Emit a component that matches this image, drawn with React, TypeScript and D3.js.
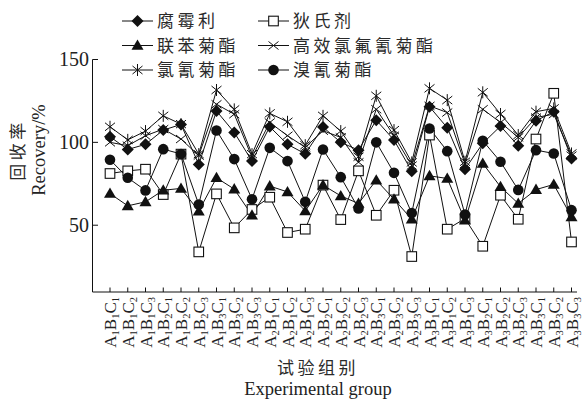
import React from "react";
import * as d3 from "d3";

const categories = [
  "A1B1C1","A1B1C2","A1B1C3","A1B2C1","A1B2C2","A1B2C3","A1B3C1","A1B3C2","A1B3C3",
  "A2B1C1","A2B1C2","A2B1C3","A2B2C1","A2B2C2","A2B2C3","A2B3C1","A2B3C2","A2B3C3",
  "A3B1C1","A3B1C2","A3B1C3","A3B2C1","A3B2C2","A3B2C3","A3B3C1","A3B3C2","A3B3C3",
];

const procymidone = [103.4, 95.7, 98.8, 107.4, 110.8, 86.7, 118.9, 106, 88.7, 109.4, 98.8, 93.1, 109.2, 100, 95.3, 113.4, 101.4, 82.6, 121.5, 108.8, 83.8, 99.4, 109.8, 97.9, 113, 118.5, 90.3];
const dieldrin = [81.2, 82.8, 83.8, 68.5, 92.9, 33.9, 68.9, 48.4, 59.5, 66.9, 45.6, 47.6, 74.2, 53.4, 82.8, 56, 71.1, 31.1, 104.4, 47.6, 54, 37.3, 68.1, 53.6, 102, 129.6, 39.9];
const bifenthrin = [69.1, 61.7, 64.1, 71.1, 72.2, 58.5, 78.6, 71.8, 56, 73.6, 70.1, 58.6, 74.2, 67.7, 63.1, 77.2, 65.7, 53.6, 79.8, 78.2, 53, 87.3, 73.2, 63.1, 71.5, 74.6, 55];
const lambdaCyhalothrin = [100, 98, 104, 108, 102, 92, 123, 117, 91, 112, 104, 97, 107, 103, 88, 120, 104, 86, 122, 118, 87, 120, 112, 103, 115, 117, 92];
const cypermethrin = [109.4, 101.5, 106.8, 116, 111, 92.9, 131.6, 119.9, 92.9, 117.5, 112.4, 98.3, 116, 106.8, 91.3, 128.1, 107.4, 87.9, 132.6, 125.5, 88.3, 130.2, 117.1, 104.4, 118.5, 120.5, 93.3];
const deltamethrin = [89.5, 78.6, 71, 95.9, 93, 62.5, 107.2, 89.9, 65.7, 96.7, 88.7, 64.1, 95.7, 79, 60.1, 100, 81.6, 57.3, 108.4, 94.7, 56.5, 101, 88.3, 71.3, 95.3, 93.3, 59.1];

const seriesNames = ["腐霉利", "狄氏剂", "联苯菊酯", "高效氯氟氰菊酯", "氯氰菊酯", "溴氰菊酯"];
const yTicks = [50, 100, 150];

type Shape = "diamond" | "square" | "triangle" | "x" | "star" | "circle";

const series: { name: string; values: number[]; shape: Shape }[] = [
  { name: seriesNames[1], values: dieldrin, shape: "square" },
  { name: seriesNames[2], values: bifenthrin, shape: "triangle" },
  { name: seriesNames[5], values: deltamethrin, shape: "circle" },
  { name: seriesNames[3], values: lambdaCyhalothrin, shape: "x" },
  { name: seriesNames[4], values: cypermethrin, shape: "star" },
  { name: seriesNames[0], values: procymidone, shape: "diamond" },
];

const legendItems: { name: string; shape: Shape }[] = [
  { name: seriesNames[0], shape: "diamond" },
  { name: seriesNames[1], shape: "square" },
  { name: seriesNames[2], shape: "triangle" },
  { name: seriesNames[3], shape: "x" },
  { name: seriesNames[4], shape: "star" },
  { name: seriesNames[5], shape: "circle" },
];

function Marker({ shape, x, y }: { shape: Shape; x: number; y: number }) {
  const k = "#111";
  switch (shape) {
    case "diamond":
      return <path d={`M${x},${y - 6}L${x + 6},${y}L${x},${y + 6}L${x - 6},${y}Z`} fill={k} />;
    case "square":
      return <rect x={x - 4.8} y={y - 4.8} width={9.6} height={9.6} fill="#fff" stroke={k} strokeWidth={1.1} />;
    case "triangle":
      return <path d={`M${x},${y - 6}L${x + 6},${y + 4.3}L${x - 6},${y + 4.3}Z`} fill={k} />;
    case "circle":
      return <circle cx={x} cy={y} r={5.3} fill={k} />;
    case "x":
      return <path d={`M${x - 5},${y - 4}L${x + 5},${y + 4}M${x - 5},${y + 4}L${x + 5},${y - 4}`} stroke={k} strokeWidth={1} />;
    case "star":
      return <path d={`M${x - 5},${y - 4}L${x + 5},${y + 4}M${x - 5},${y + 4}L${x + 5},${y - 4}M${x},${y - 6}L${x},${y + 6}`} stroke={k} strokeWidth={1} />;
  }
}

export default function App() {
  const W = 583, H = 399;
  const x = d3.scalePoint<string>().domain(categories).range([110, 571.5]);
  const y = d3.scaleLinear().domain([10, 150]).range([291.5, 59.5]);
  const line = d3.line<number>().x((_, i) => x(categories[i]) as number).y((d) => y(d));
  const serif = "'Liberation Serif', 'Times New Roman', serif";
  const cjk = "'Noto Sans CJK SC', sans-serif";

  return (
    <svg width={W} height={H} style={{ position: "absolute", left: 0, top: 0, background: "#fff" }}>
      <rect width={W} height={H} fill="#fff" />
      {/* legend */}
      {legendItems.map((it, i) => {
        const col = i % 2, row = Math.floor(i / 2);
        const lx = col === 0 ? 122 : 258;
        const ly = 21 + row * 24.5;
        return (
          <g key={it.name}>
            <line x1={lx} x2={lx + 31} y1={ly} y2={ly} stroke="#111" strokeWidth={1} />
            <Marker shape={it.shape} x={lx + 15.5} y={ly} />
            <text x={lx + 35} y={ly + 6} fontFamily={cjk} fontSize={17} letterSpacing={3.5} fill="#2a2a2a">{it.name}</text>
          </g>
        );
      })}
      {/* axes */}
      <line x1={92.5} x2={92.5} y1={59.5} y2={292} stroke="#111" strokeWidth={1} />
      <line x1={92.5} x2={577} y1={292} y2={292} stroke="#111" strokeWidth={1} />
      {yTicks.map((t) => (
        <g key={t}>
          <line x1={92.5} x2={98} y1={y(t)} y2={y(t)} stroke="#111" strokeWidth={1} />
          <text x={89} y={y(t) + 6.5} textAnchor="end" fontFamily={serif} fontSize={20} fill="#222">{t}</text>
        </g>
      ))}
      {categories.map((c) => {
        const px = x(c) as number;
        const parts = c.match(/[A-Z]\d/g) || [];
        return (
          <g key={c}>
            <line x1={px} x2={px} y1={292} y2={287.5} stroke="#111" strokeWidth={1} />
            <text transform={`translate(${px + 6},${297}) rotate(-90)`} textAnchor="end" fontFamily={serif} fontSize={17} fill="#222">
              {parts.map((p, j) => (
                <React.Fragment key={j}>
                  <tspan fontSize={17} dy={j === 0 ? 0 : -3}>{p[0]}</tspan>
                  <tspan fontSize={10.5} dy={3}>{p[1]}</tspan>
                </React.Fragment>
              ))}
            </text>
          </g>
        );
      })}
      {/* axis titles */}
      <text x={318} y={374} textAnchor="middle" fontFamily={cjk} fontSize={17} letterSpacing={3.5} fill="#2a2a2a">试验组别</text>
      <text x={318} y={395} textAnchor="middle" fontFamily={serif} fontSize={18.5} fill="#222">Experimental group</text>
      <text transform="translate(24,150) rotate(-90)" textAnchor="middle" fontFamily={cjk} fontSize={17} letterSpacing={3.5} fill="#2a2a2a">回收率</text>
      <text transform="translate(45,150) rotate(-90)" textAnchor="middle" fontFamily={serif} fontSize={18.5} fill="#222">Recovery/%</text>
      {/* lines */}
      {series.map((s) => (
        <path key={s.name} d={line(s.values) || ""} fill="none" stroke="#111" strokeWidth={1} />
      ))}
      {/* markers */}
      {series.map((s) => (
        <g key={s.name}>
          {s.values.map((v, i) => (
            <Marker key={i} shape={s.shape} x={x(categories[i]) as number} y={y(v)} />
          ))}
        </g>
      ))}
    </svg>
  );
}
